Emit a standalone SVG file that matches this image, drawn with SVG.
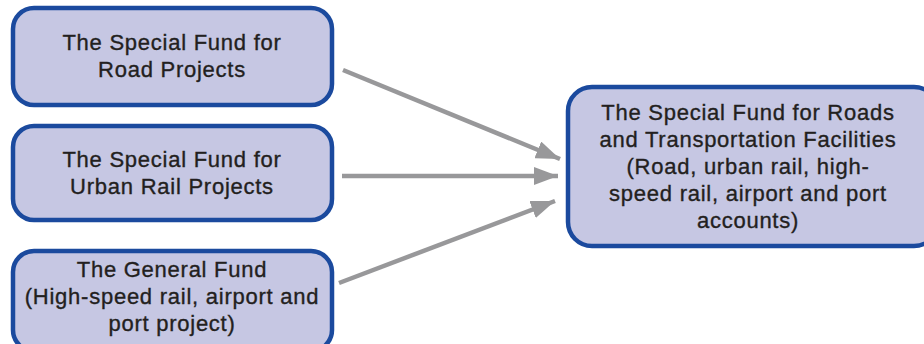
<svg xmlns="http://www.w3.org/2000/svg" width="924" height="344" viewBox="0 0 924 344">
<defs>
<style>
.box{fill:#c6c7e3;stroke:#1b4a9e;stroke-width:4.5}
.t{font-family:"Liberation Sans",Arial,sans-serif;font-size:22px;fill:#231f20;stroke:#231f20;stroke-width:0.35px;text-anchor:middle;letter-spacing:0.75px}
.c{stroke:#98989a;stroke-width:4.5;fill:none}
</style>
<marker id="ah" markerUnits="userSpaceOnUse" markerWidth="26" markerHeight="18" refX="24" refY="9" orient="auto">
<path d="M0,0 L24,9 L0,18 Z" fill="#98989a"/>
</marker>
</defs>
<g id="connectors">
<line class="c" x1="343" y1="70" x2="560" y2="159" marker-end="url(#ah)"/>
<line class="c" x1="342" y1="176" x2="558" y2="176" marker-end="url(#ah)"/>
<line class="c" x1="339" y1="283" x2="555" y2="201" marker-end="url(#ah)"/>
</g>
<g id="road">
<rect class="box" x="13" y="8" width="319" height="97" rx="21"/>
<text class="t" x="172" y="50">The Special Fund for</text>
<text class="t" x="172" y="77">Road Projects</text>
</g>
<g id="urban">
<rect class="box" x="13" y="126" width="319" height="94" rx="21"/>
<text class="t" x="172" y="167">The Special Fund for</text>
<text class="t" x="172" y="194">Urban Rail Projects</text>
</g>
<g id="general">
<rect class="box" x="13" y="251" width="319" height="100" rx="21"/>
<text class="t" x="172" y="277">The General Fund</text>
<text class="t" x="172" y="304">(High-speed rail, airport and</text>
<text class="t" x="172" y="331">port project)</text>
</g>
<g id="combined">
<rect class="box" x="568" y="87" width="370" height="159" rx="24"/>
<text class="t" x="748" y="120">The Special Fund for Roads</text>
<text class="t" x="748" y="147">and Transportation Facilities</text>
<text class="t" x="748" y="174">(Road, urban rail, high-</text>
<text class="t" x="748" y="201">speed rail, airport and port</text>
<text class="t" x="748" y="228">accounts)</text>
</g>
</svg>
